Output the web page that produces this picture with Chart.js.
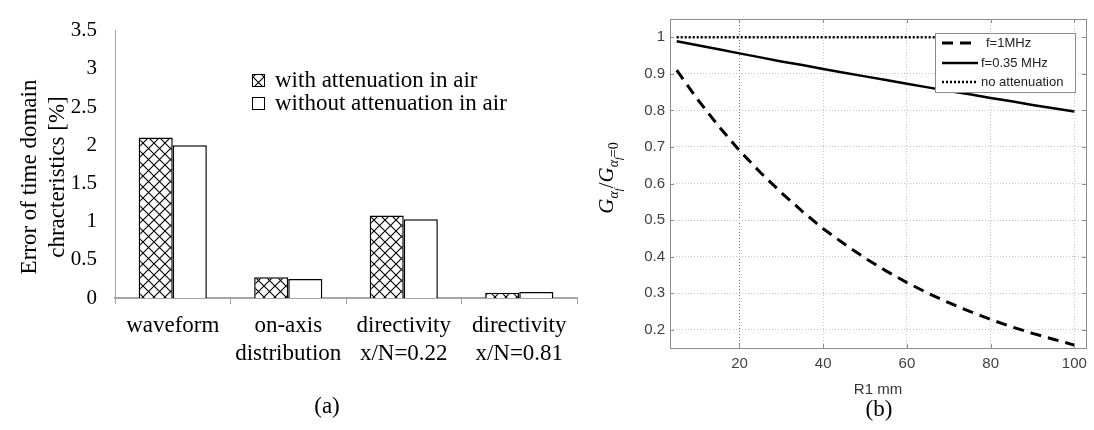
<!DOCTYPE html>
<html><head><meta charset="utf-8">
<script src="https://cdn.jsdelivr.net/npm/chart.js@4.4.1/dist/chart.umd.min.js"></script>
<style>
html,body{margin:0;padding:0;background:#fff;width:1094px;height:430px;overflow:hidden;}
#wa{position:absolute;left:0;top:0;width:590px;height:430px;}
#wb{position:absolute;left:560px;top:0;width:534px;height:430px;}
</style></head><body>
<div id="wa"><canvas id="ca"></canvas></div>
<div id="wb"><canvas id="cb"></canvas></div>
<script>
// ---------- panel (a) data ----------
const categoriesA = [["waveform"], ["on-axis", "distribution"], ["directivity", "x/N=0.22"], ["directivity", "x/N=0.81"]];
const withAttenuation = [2.1, 0.27, 1.08, 0.07];
const withoutAttenuation = [2.0, 0.25, 1.03, 0.08];
const seriesNamesA = ["with attenuation in air", "without attenuation in air"];
const yTicksA = [0, 0.5, 1, 1.5, 2, 2.5, 3, 3.5];
const yTitleA = ["Error of time domain", "chracteristics [%]"];
const panelA = "(a)";

// ---------- panel (b) data ----------
const r1mm = [5, 10, 15, 20, 25, 30, 35, 40, 45, 50, 55, 60, 65, 70, 75, 80, 85, 90, 95, 100];
const f1MHz = [0.91, 0.83, 0.757, 0.69, 0.63, 0.575, 0.524, 0.476, 0.435, 0.396, 0.361, 0.329, 0.300, 0.274, 0.250, 0.228, 0.208, 0.190, 0.174, 0.158];
const f035MHz = [0.989, 0.978, 0.967, 0.956, 0.945, 0.934, 0.924, 0.913, 0.903, 0.893, 0.883, 0.873, 0.863, 0.853, 0.844, 0.834, 0.825, 0.815, 0.806, 0.797];
const noAttenuation = [1, 1, 1, 1, 1, 1, 1, 1, 1, 1, 1, 1, 1, 1, 1, 1, 1, 1, 1, 1];
const seriesNamesB = ["f=1MHz", "f=0.35 MHz", "no attenuation"];
const xTicksB = [20, 40, 60, 80, 100];
const yTicksB = [0.2, 0.3, 0.4, 0.5, 0.6, 0.7, 0.8, 0.9, 1];
const xTitleB = "R1 mm";
const panelB = "(b)";

const SERIF = '"Liberation Serif", "Times New Roman", serif';
const SANS = '"Liberation Sans", Arial, sans-serif';

function makeHatch() {
  const s = 11;
  const c = document.createElement('canvas');
  c.width = s; c.height = s;
  const g = c.getContext('2d');
  g.fillStyle = '#fff'; g.fillRect(0, 0, s, s);
  g.strokeStyle = '#000'; g.lineWidth = 1.1;
  g.beginPath();
  g.moveTo(-2, -2); g.lineTo(s + 2, s + 2);
  g.moveTo(s + 2, -2); g.lineTo(-2, s + 2);
  g.stroke();
  return g.createPattern(c, 'repeat');
}
const hatch = makeHatch();

// ---------- panel (a) ----------
const extrasA = {
  id: 'extrasA',
  afterDraw(chart) {
    const ctx = chart.ctx;
    ctx.save();
    ctx.fillStyle = '#000';
    ctx.font = '23px ' + SERIF;
    ctx.textAlign = 'center'; ctx.textBaseline = 'middle';
    const xs = [30, 58];
    yTitleA.forEach((t, i) => {
      ctx.save();
      ctx.translate(xs[i], 177);
      ctx.rotate(-Math.PI / 2);
      ctx.fillText(t, 0, 0);
      ctx.restore();
    });
    const fills = [hatch, '#fff'];
    const rows = [80, 103];
    ctx.textAlign = 'left';
    seriesNamesA.forEach((t, i) => {
      ctx.fillStyle = fills[i];
      ctx.fillRect(252.5, rows[i] - 6, 12, 12);
      ctx.strokeStyle = '#000'; ctx.lineWidth = 1;
      ctx.strokeRect(252.5, rows[i] - 5.5, 12, 12);
      ctx.fillStyle = '#000';
      ctx.fillText(t, 275, rows[i] + 1);
    });
    ctx.textAlign = 'center';
    ctx.fillText(panelA, 327, 407);
    ctx.restore();
  }
};

new Chart(document.getElementById('ca'), {
  type: 'bar',
  data: {
    labels: categoriesA,
    datasets: [
      { label: seriesNamesA[0], data: withAttenuation, backgroundColor: hatch, borderColor: '#000', borderWidth: 1.5 },
      { label: seriesNamesA[1], data: withoutAttenuation, backgroundColor: '#fff', borderColor: '#000', borderWidth: 1.5 }
    ]
  },
  options: {
    responsive: true, maintainAspectRatio: false, animation: false,
    datasets: { bar: { barPercentage: 1, categoryPercentage: 0.59 } },
    layout: { padding: { left: 0, right: 13, top: 14, bottom: 0 } },
    plugins: { legend: { display: false }, tooltip: { enabled: false } },
    scales: {
      x: {
        grid: { display: true, drawOnChartArea: false, drawTicks: true, tickLength: 6, color: '#a6a6a6', lineWidth: 1, offset: true },
        border: { display: true, color: '#a6a6a6', width: 2 },
        ticks: { font: { family: SERIF, size: 23, lineHeight: 1.22 }, color: '#000', padding: 8, maxRotation: 0, autoSkip: false },
        afterFit(s) { s.height = 132; }
      },
      y: {
        min: 0, max: 3.5,
        afterBuildTicks(s) { s.ticks = yTicksA.map(v => ({ value: v })); },
        grid: { display: false, drawTicks: false },
        border: { display: true, color: '#a6a6a6', width: 1 },
        ticks: { font: { family: SERIF, size: 21 }, color: '#000', padding: 18, callback: v => String(v) },
        afterFit(s) { s.width = 115; }
      }
    }
  },
  plugins: [extrasA]
});

// ---------- panel (b) ----------
const pts = ys => r1mm.map((x, i) => ({ x: x, y: ys[i] }));
const styleB = [
  { w: 3, dash: [11, 7] },
  { w: 2.5, dash: [] },
  { w: 2.5, dash: [2, 2] }
];

const extrasB = {
  id: 'extrasB',
  afterDraw(chart) {
    const ctx = chart.ctx;
    const a = chart.chartArea;
    const sx = chart.scales.x, sy = chart.scales.y;
    ctx.save();
    ctx.strokeStyle = '#8c8c8c'; ctx.lineWidth = 1;
    ctx.strokeRect(Math.round(a.left) + 0.5, Math.round(a.top) + 0.5, Math.round(a.right - a.left), Math.round(a.bottom - a.top));
    ctx.beginPath();
    xTicksB.forEach(v => {
      const p = Math.round(sx.getPixelForValue(v)) + 0.5;
      ctx.moveTo(p, a.bottom); ctx.lineTo(p, a.bottom - 4);
      ctx.moveTo(p, a.top); ctx.lineTo(p, a.top + 4);
    });
    yTicksB.forEach(v => {
      const p = Math.round(sy.getPixelForValue(v)) + 0.5;
      ctx.moveTo(a.left, p); ctx.lineTo(a.left + 4, p);
      ctx.moveTo(a.right, p); ctx.lineTo(a.right - 4, p);
    });
    ctx.stroke();
    const L = 375.5, T = 33.5, W = 140, H = 59;
    ctx.fillStyle = '#fff'; ctx.fillRect(L, T, W, H);
    ctx.strokeStyle = '#8c8c8c'; ctx.lineWidth = 1; ctx.strokeRect(L, T, W, H);
    const rows = [43, 63, 82];
    ctx.font = '13px ' + SANS; ctx.textAlign = 'left'; ctx.textBaseline = 'middle';
    seriesNamesB.forEach((t, i) => {
      ctx.strokeStyle = '#000'; ctx.lineWidth = styleB[i].w; ctx.setLineDash(styleB[i].dash);
      ctx.beginPath(); ctx.moveTo(382, rows[i]); ctx.lineTo(418, rows[i]); ctx.stroke();
      ctx.setLineDash([]);
      ctx.fillStyle = '#222';
      ctx.fillText(t, i === 0 ? 426 : 421, rows[i]);
    });
    const parts = [
      { t: 'G', s: 21, dy: 0, it: true },
      { t: 'α', s: 14, dy: 5, it: true },
      { t: 'f', s: 10, dy: 9, it: true },
      { t: '/', s: 21, dy: 0, it: false },
      { t: 'G', s: 21, dy: 0, it: true },
      { t: 'α', s: 14, dy: 5, it: true },
      { t: 'f', s: 10, dy: 9, it: true },
      { t: '=0', s: 14, dy: 5, it: false }
    ];
    ctx.save();
    ctx.translate(46, 178);
    ctx.rotate(-Math.PI / 2);
    ctx.fillStyle = '#000'; ctx.textBaseline = 'alphabetic'; ctx.textAlign = 'left';
    let total = 0;
    parts.forEach(p => { ctx.font = (p.it ? 'italic ' : '') + p.s + 'px ' + SERIF; p.w = ctx.measureText(p.t).width; total += p.w; });
    let cx = -total / 2;
    parts.forEach(p => {
      ctx.font = (p.it ? 'italic ' : '') + p.s + 'px ' + SERIF;
      ctx.fillText(p.t, cx, 7 + p.dy);
      cx += p.w;
    });
    ctx.restore();
    ctx.font = '23px ' + SERIF; ctx.fillStyle = '#000'; ctx.textAlign = 'center'; ctx.textBaseline = 'middle';
    ctx.fillText(panelB, 319, 410);
    ctx.restore();
  }
};

new Chart(document.getElementById('cb'), {
  type: 'line',
  data: {
    datasets: [
      { label: seriesNamesB[0], data: pts(f1MHz), borderColor: '#000', borderWidth: styleB[0].w, borderDash: styleB[0].dash, pointRadius: 0, fill: false },
      { label: seriesNamesB[1], data: pts(f035MHz), borderColor: '#000', borderWidth: styleB[1].w, pointRadius: 0, fill: false },
      { label: seriesNamesB[2], data: pts(noAttenuation), borderColor: '#000', borderWidth: styleB[2].w, borderDash: styleB[2].dash, pointRadius: 0, fill: false }
    ]
  },
  options: {
    responsive: true, maintainAspectRatio: false, animation: false,
    layout: { padding: { left: 0, right: 5, top: 19, bottom: 0 } },
    plugins: { legend: { display: false }, tooltip: { enabled: false } },
    scales: {
      x: {
        type: 'linear', min: 3.4, max: 102.8,
        afterBuildTicks(s) { s.ticks = xTicksB.map(v => ({ value: v })); },
        grid: { color: c => (c.tick && c.tick.value === 20) ? '#777' : '#c4c4c4', lineWidth: 1, drawTicks: false },
        border: { display: false, dash: [1, 2] },
        ticks: { font: { family: SANS, size: 15 }, color: '#404040', padding: 7 },
        title: { display: true, text: xTitleB, font: { family: SANS, size: 15 }, color: '#333', padding: { top: 0, bottom: 31 } },
        afterFit(s) { s.height = 82; }
      },
      y: {
        min: 0.15, max: 1.05,
        afterBuildTicks(s) { s.ticks = yTicksB.map(v => ({ value: v })); },
        grid: { color: '#c4c4c4', lineWidth: 1, drawTicks: false },
        border: { display: false, dash: [1, 2] },
        ticks: { font: { family: SANS, size: 15 }, color: '#404040', padding: 5, callback: v => (v === 1 ? '1' : Number(v).toFixed(1)) },
        afterFit(s) { s.width = 110; }
      }
    }
  },
  plugins: [extrasB]
});
</script>
</body></html>
